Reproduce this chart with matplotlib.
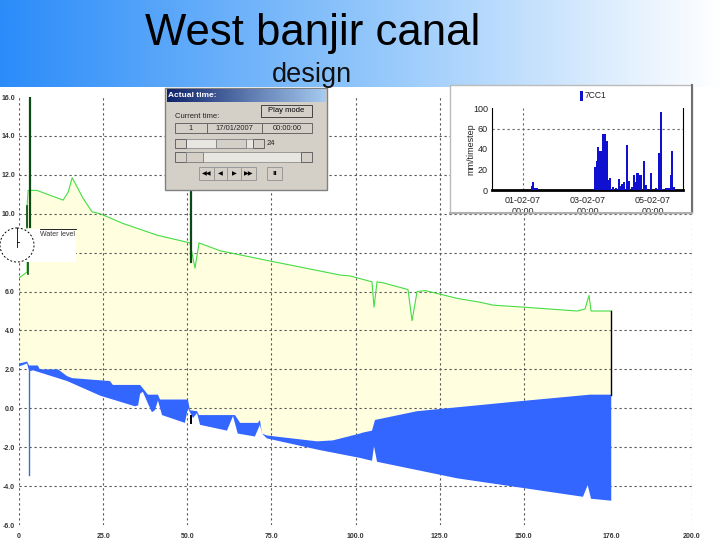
import numpy as np
import matplotlib
matplotlib.use("Agg")
import matplotlib.pyplot as plt
from matplotlib.colors import LinearSegmentedColormap
from matplotlib.patches import Rectangle, Circle
from matplotlib.transforms import Bbox

plt.rcParams['font.family'] = ['Liberation Sans', 'DejaVu Sans']

# long profile, chainage / level
surface_x = [0, 2.4, 2.4, 2.7, 5.3, 13.1, 14.6, 15.8, 17.2, 19, 21.7, 24.1, 30.9, 41, 50.8, 52.3, 53.5, 59.7,
             73.7, 95.4, 98.4, 104.9, 105.5, 106.4, 108.2, 115.6, 116.8, 118.3, 120.7, 130.2, 137, 140.9,
             149.8, 165.8, 168.2, 169.4, 170, 176]
surface_y = [6.7, 7.0, 10.4, 11.2, 11.2, 10.7, 11.1, 11.85, 11.4, 10.8, 10.1, 10, 9.5, 8.9, 8.5, 7.2, 8.5, 8.1,
             7.6, 6.85, 6.8, 6.5, 5.2, 6.5, 6.45, 6.1, 4.5, 6.0, 6.05, 5.65, 5.45, 5.3,
             5.2, 5, 5.1, 5.8, 5, 5]
water_x = [0, 2.4, 3.0, 5.6, 6.2, 11.6, 14.3, 15.8, 27, 27.9, 36, 37.4, 38.3, 41.3, 41.9, 50.2, 50.8, 52.9, 53.5,
           64.2, 65.7, 71, 71.6, 72.2, 73.7, 88.6, 93.3, 101.3, 102.2, 104.9, 105.8, 118.3, 148, 169.7, 176]
water_y = [2.3, 2.4, 2.2, 2.2, 2.0, 2.0, 1.65, 1.55, 1.4, 1.2, 1.2, 0.9, 0.7, 0.7, 0.45, 0.45, -0.1, -0.15, -0.35,
           -0.35, -0.75, -0.75, -0.6, -1.3, -1.4, -1.7, -1.65, -1.3, -1.25, -1.15, -0.6, -0.15, 0.35, 0.7, 0.7]
bed_x = [0, 2.4, 3.0, 4.2, 14.3, 24.1, 34.5, 35.4, 36, 36.8, 38.3, 39.5, 40.4, 41.3, 42.5, 49.3, 50.2, 51.7, 52.9,
         53.8, 61.8, 63.6, 65, 70.1, 71.6, 72.2, 73.7, 89.4, 101.3, 104.9, 105.5, 106.4, 130.2, 167.6, 169, 170, 176]
bed_y = [2.15, 2.3, 1.9, 1.95, 1.4, 0.65, 0.1, 0.15, 0.75, 0.85, 0.25, -0.2, -0.1, 0.4, -0.35, -0.75, 0, -0.5, -0.25,
         -0.85, -1.15, -0.4, -1.3, -1.45, -0.85, -1.3, -1.55, -2.15, -2.55, -2.7, -1.95, -2.75, -3.6, -4.55, -3.95,
         -4.65, -4.75]

x_ticks = [0, 25, 50, 75, 100, 125, 150, 176, 200]
x_labels = ["0", "25.0", "50.0", "75.0", "100.0", "125.0", "150.0", "176.0", "200.0"]
y_ticks = [16, 14, 12, 10, 8, 6, 4, 2, 0, -2, -4, -6]
y_labels = ["16.0", "14.0", "12.0", "10.0", "8.0", "6.0", "4.0", "2.0", "0.0", "-2.0", "-4.0", "-6.0"]

# rainfall inset
rain_days = [1.27, 1.32, 1.37, 1.42, 3.22, 3.27, 3.32, 3.37, 3.42, 3.47, 3.52, 3.57, 3.63, 3.68, 3.73, 3.78, 3.85,
             3.95, 4.0, 4.06, 4.11, 4.21, 4.26, 4.36, 4.42, 4.47, 4.52, 4.57, 4.62, 4.72, 4.77, 4.93, 5.08, 5.18,
             5.24, 5.29, 5.39, 5.44, 5.49, 5.54, 5.59, 5.65]
rain_mm = [4, 8, 2, 2, 22, 28, 42, 38, 38, 55, 55, 48, 10, 12, 1, 3, 2,
           11, 4, 6, 8, 44, 9, 3, 15, 8, 17, 15, 15, 28, 5, 17, 2, 36,
           76, 1, 2, 2, 2, 15, 38, 3]
rain_ticks = [0, 20, 40, 60, 80]
rain_tick_labels = ["0", "20", "40", "60", "100"]
date_ticks = [1, 3, 5]
date_labels = ["01-02-07\n00:00", "03-02-07\n00:00", "05-02-07\n00:00"]

W, H = 720, 540


def px_axes(x0, y0, x1, y1, **kw):
    return fig.add_axes([x0 / W, 1 - y1 / H, (x1 - x0) / W, (y1 - y0) / H], **kw)


fig = plt.figure(figsize=(7.2, 5.4), dpi=100, facecolor='white')

# main profile
ax = px_axes(19, 97, 692, 525)
ax.set_xlim(0, 200)
ax.set_ylim(-6, 16)
ax.fill(surface_x + water_x[::-1], surface_y + water_y[::-1], color='#FFFFE0', lw=0, zorder=1)
ax.fill(water_x + bed_x[::-1], water_y + bed_y[::-1], color='#3366FF', lw=0, zorder=3)
ax.plot(surface_x, surface_y, color='#44DD44', lw=0.8, zorder=4)
ax.plot([3.0, 3.0], [1.9, -3.45], color='#3A6FD8', lw=1, zorder=4)
ax.plot([176, 176], [0.7, 5], color='black', lw=1, zorder=4)
ax.plot([3.4, 3.4], [16, 9.3], color='#0B4A14', lw=1.6, zorder=5)
ax.plot([2.5, 2.5], [10.4, 9.3], color='#0B4A14', lw=1.2, zorder=5)
ax.plot([2.7, 2.7], [7.6, 6.9], color='#0B4A14', lw=1.2, zorder=5)
ax.plot([51, 51], [12.5, 7.5], color='#0B4A14', lw=1.6, zorder=5)
ax.plot([51, 51], [-0.4, -0.75], color='black', lw=1.4, zorder=5)
ax.set_xticks(x_ticks, x_labels, fontsize=5, fontweight='bold', color='#333333')
ax.set_yticks(y_ticks, y_labels, fontsize=5, fontweight='bold', color='#333333')
ax.tick_params(length=0, pad=3)
ax.tick_params(axis='x', pad=6)
ax.grid(True, color='#555555', ls=(0, (2, 2.5)), lw=0.8, zorder=2)
ax.set_axisbelow(False)
for ln in ax.get_xgridlines() + ax.get_ygridlines():
    ln.set_zorder(2)
ax.get_xgridlines()[7].set_visible(False)
ax.get_ygridlines()[0].set_visible(False)
ax.get_ygridlines()[-1].set_visible(False)
for s in ax.spines.values():
    s.set_visible(False)

# banner, panels and the dialog, in pixel coordinates
ov = fig.add_axes([0, 0, 1, 1], zorder=5)
ov.patch.set_alpha(0)
ov.axis('off')
grad = LinearSegmentedColormap.from_list('banner', ['#2B8CF9', '#8FC5FB', '#FFFFFF'])
ov.imshow(np.linspace(0, 1, 256).reshape(1, -1), cmap=grad, extent=(0, W, 87, 0), aspect='auto')
ov.set_xlim(0, W)
ov.set_ylim(H, 0)
ov.text(145, 33, "West banjir canal", fontsize=31.5, va='center', ha='left', color='black')
ov.text(272, 75, "design", fontsize=19.5, va='center', ha='left', color='#111111')

# water level label and clock
ov.add_patch(Rectangle((20, 229), 56, 33, fc='white', ec='none'))
ov.plot([40, 76], [229, 229], color='black', lw=0.6)
ov.text(40, 234, "Water level", fontsize=5, va='center', ha='left', color='#333333')
ov.add_patch(Circle((17, 245), 17, fc='white', ec='black', lw=0.7, ls=(0, (2, 2))))
ov.plot([17, 17], [228, 247], color='black', lw=0.6)
ov.plot([17, 19], [242, 242], color='black', lw=0.6)


def box(x0, y0, x1, y1, fc='#D4D0C8', ec='#555555', lw=0.7):
    ov.add_patch(Rectangle((x0, y0), x1 - x0, y1 - y0, fc=fc, ec=ec, lw=lw))


box(165, 88, 327, 190, ec='#808080', lw=1)
title_cmap = LinearSegmentedColormap.from_list('dlg', ['#10246A', '#A6CAF0'])
ov.imshow(np.linspace(0, 1, 128).reshape(1, -1), cmap=title_cmap, extent=(167, 326, 102, 89), aspect='auto',
          zorder=2)
ov.set_xlim(0, W)
ov.set_ylim(H, 0)
ov.text(168, 95.5, "Actual time:", fontsize=6, fontweight='bold', color='white', va='center')
box(261, 105, 312, 117, ec='#444444')
ov.text(286.5, 111, "Play mode", fontsize=5.5, color='black', ha='center', va='center')
ov.text(175, 116, "Current time:", fontsize=5.5, color='#222222', va='center')
for x0, x1, s in [(175, 207, "1"), (207, 262, "17/01/2007"), (262, 312, "00:00:00")]:
    box(x0, 123, x1, 133, ec='#666666')
    ov.text((x0 + x1) / 2, 128, s, fontsize=5.5, color='#222222', ha='center', va='center')
box(175, 139, 264, 148, fc='#E8E6E0', ec='#999999')
box(175, 139, 186, 148, ec='#666666')
box(253, 139, 264, 148, ec='#666666')
box(216, 139, 246, 148, ec='#888888')
ov.text(267, 143.5, "24", fontsize=5.5, color='#222222', va='center')
box(175, 152, 312, 162, fc='#E8E6E0', ec='#999999')
box(175, 152, 186, 162, ec='#666666')
box(186, 152, 203, 162, ec='#888888')
box(301, 152, 312, 162, ec='#666666')
for x0, x1, s in [(199, 214, "◀◀"), (214, 227, "◀"), (227, 241, "▶"), (241, 256, "▶▶"), (267, 282, "II")]:
    box(x0, 167, x1, 180, ec='#999999')
    ov.text((x0 + x1) / 2, 173.5, s, fontsize=4.5, color='black', ha='center', va='center',
            family='DejaVu Sans', fontweight='bold')

# rainfall panel
box(450, 85, 692, 213, fc='white', ec='#BBBBBB', lw=1)
ov.plot([692, 692], [85, 213], color='#707070', lw=1.5)
ov.plot([450, 692], [213, 213], color='#B0B0B0', lw=1.5)
ov.add_patch(Rectangle((580, 91), 2.5, 10, fc='#1010D0', ec='none'))
ov.text(585, 96, "7CC1", fontsize=6.2, color='#222222', va='center')

rain = px_axes(492, 108, 683, 190, zorder=6)
rain.patch.set_alpha(0)
rain.set_xlim(0.05, 5.92)
rain.set_ylim(0, 80)
rain.bar(rain_days, rain_mm, width=0.065, color='#1010D0', zorder=3)
rain.set_xticks(date_ticks, date_labels, fontsize=6.5, color='#222222', linespacing=1.35)
rain.set_yticks(rain_ticks, rain_tick_labels, fontsize=6.5, color='#222222')
rain.set_ylabel("mm/timestep", fontsize=6.5, color='#222222', labelpad=-2)
rain.tick_params(length=0, pad=3)
rain.tick_params(axis='x', pad=4)
rain.grid(True, color='#666666', ls=(0, (2, 2.5)), lw=0.8, zorder=1)
rain.get_ygridlines()[0].set_visible(False)
rain.get_ygridlines()[1].set_visible(False)
rain.get_ygridlines()[2].set_visible(False)
rain.get_ygridlines()[4].set_visible(False)
rain.get_xgridlines()[1].set_visible(False)
rain.get_xgridlines()[2].set_visible(False)
rain.spines['top'].set_visible(False)
rain.spines['left'].set_linewidth(0.8)
rain.spines['right'].set_linewidth(0.8)
rain.spines['bottom'].set_linewidth(2)
# second line of the date labels is cut off by the panel edge
for lab in rain.get_xticklabels():
    lab.set_clip_on(True)
    lab.set_clip_box(Bbox([[450, H - 212], [692, H - 85]]))

fig.savefig("out.png", dpi=100)
